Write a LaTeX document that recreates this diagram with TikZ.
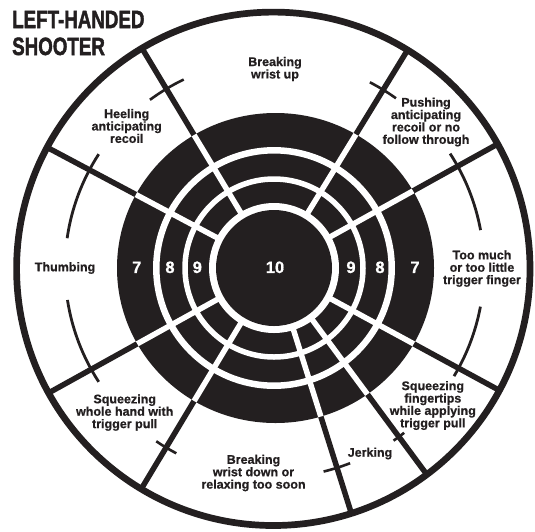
\documentclass[tikz,border=0pt]{standalone}
\usepackage{fontspec}
\setmainfont{Liberation Sans}
\newfontface\lblfont[FakeBold=0.7]{Liberation Sans Bold}
\newfontface\ttlfont[FakeBold=2]{Liberation Sans Bold}
\usetikzlibrary{calc}
\definecolor{ink}{RGB}{35,31,32}
\begin{document}
\begin{tikzpicture}[x=1pt,y=1pt,
  lbl/.style={font=\fontsize{12.5}{12.4}\lblfont, align=center, text=ink, inner sep=0pt},
  num/.style={font=\fontsize{16.5}{16.5}\lblfont, text=white, inner sep=0pt},
  ttl/.style={font=\fontsize{25}{25}\ttlfont, text=ink, inner sep=0pt, anchor=base west},
  blackspoke/.style={draw=ink, line width=5.5pt},
  whitespoke/.style={draw=white, line width=5.5pt},
  arcline/.style={draw=ink, line width=2.8pt},
  tickmark/.style={draw=ink, line width=2.6pt},
]
\useasboundingbox (0,0) rectangle (535,-531);
\fill[white] (0,0) rectangle (535,-531);
\coordinate (C) at (274,-268);
\coordinate (O) at (273.3,-268.8);
\coordinate (E) at (275.5,-268);

% black spokes in the outer ring
\foreach \a in {29,58.5,121,152,209,239,287.5,306.5,331.5}
  \draw[blackspoke] (C) -- ($(C)+(\a:256)$);

% outer circle
\draw[ink, line width=6.7pt] (O) circle (256.7);

% black target
\fill[ink] (E) ellipse (158.5 and 155);

% white spokes within the black target
\begin{scope}
  \clip (E) ellipse (158.5 and 155);
  \foreach \a in {29,58.5,121,152,209,239,287.5,306.5,331.5}
    \draw[whitespoke] ($(C)+(\a:58)$) -- ($(C)+(\a:175)$);
\end{scope}

% white rings
\draw[white, line width=6.5pt] (C) circle (117.7);
\draw[white, line width=5.5pt] (C) circle (89);
\fill[white] (C) circle (65);
\fill[ink] (C) circle (58);

% arcs (interrupted by the labels)
\draw[arcline] ($(C)+(147:209)$) arc[start angle=147, end angle=171.8, radius=209];
\draw[arcline] ($(C)+(188.8:209)$) arc[start angle=188.8, end angle=213, radius=209];
\draw[arcline] ($(C)+(-31:210)$) arc[start angle=-31, end angle=-10.6, radius=210];
\draw[arcline] ($(C)+(10.4:210)$) arc[start angle=10.4, end angle=33, radius=210];

% tick marks
\draw[tickmark] ($(C)+(115.6:209)$) arc[start angle=115.6, end angle=126.4, radius=209];
\draw[tickmark] ($(C)+(54.3:209)$) arc[start angle=54.3, end angle=62.7, radius=209];
\draw[tickmark] ($(C)+(235.8:209.5)$) arc[start angle=235.8, end angle=242.2, radius=209.5];
\draw[tickmark] ($(C)+(283.7:209.5)$) arc[start angle=283.7, end angle=291.3, radius=209.5];
\draw[tickmark] ($(C)+(304.7:210)$) arc[start angle=304.7, end angle=308.3, radius=210];

% title
\node[ttl] (t1) at (12,-28) {\scalebox{0.75}[1]{LEFT-HANDED}};
\node[ttl] (t2) at (12,-55) {\scalebox{0.75}[1]{SHOOTER}};

% score numbers
\node[num] (n7l) at (136.7,-267.3) {7};
\node[num] (n8l) at (170,-267.3) {8};
\node[num] (n9l) at (197.3,-267.3) {9};
\node[num] (n10) at (275,-267.3) {10};
\node[num] (n9r) at (351,-267.3) {9};
\node[num] (n8r) at (380,-267.3) {8};
\node[num] (n7r) at (415,-267.3) {7};

% labels
\node[lbl] (l1) at (275,-69) {Breaking\\wrist up};
\node[lbl] (l2) at (126.7,-126) {Heeling\\anticipating\\recoil};
\node[lbl] (l3) at (426,-122) {Pushing\\anticipating\\recoil or no\\follow through};
\node[lbl] (l4) at (65,-268) {Thumbing};
\node[lbl] (l5) at (482,-268.5) {Too much\\or too little\\trigger finger};
\node[lbl] (l6) at (124.7,-412.5) {Squeezing\\whole hand with\\trigger pull};
\node[lbl] (l7) at (253.5,-473) {Breaking\\wrist down or\\relaxing too soon};
\node[lbl] (l8) at (370,-453.5) {Jerking};
\node[lbl] (l9) at (432.8,-405.5) {Squeezing\\fingertips\\while applying\\trigger pull};
\end{tikzpicture}
\end{document}
